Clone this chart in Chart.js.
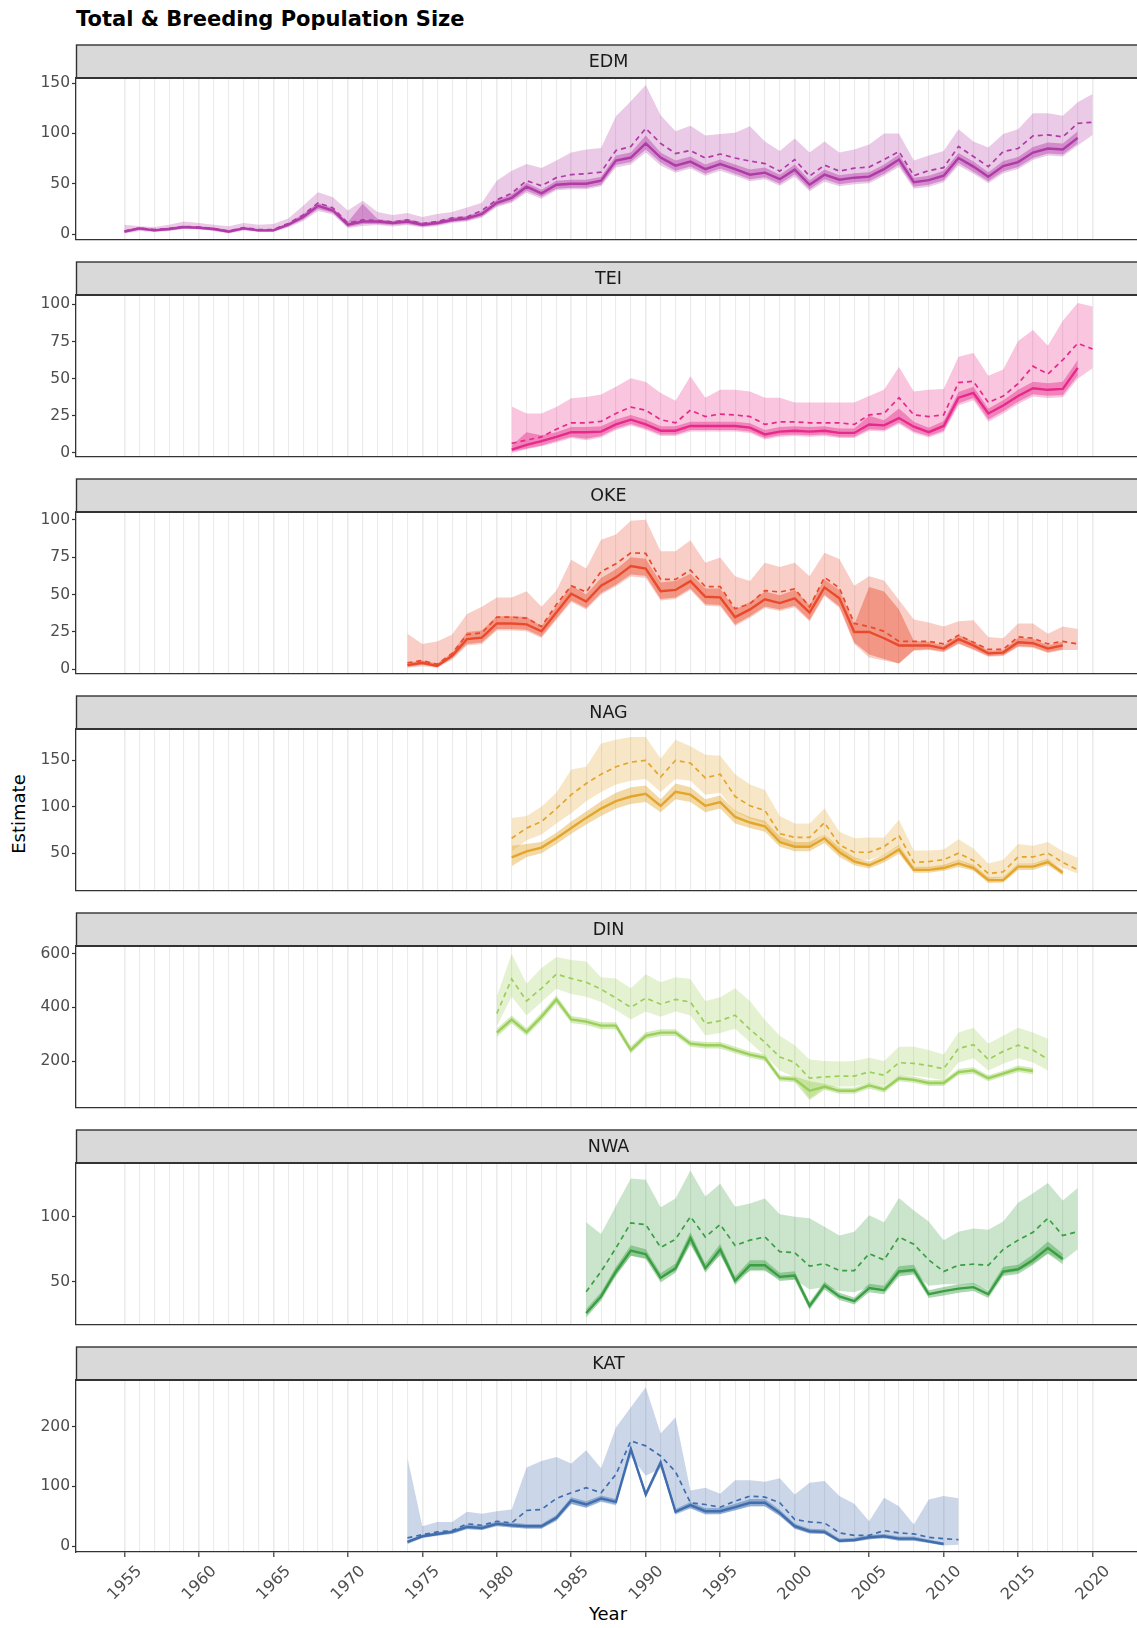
<!DOCTYPE html>
<html>
<head>
<meta charset="utf-8">
<script src="https://cdn.jsdelivr.net/npm/chart.js@4.4.1/dist/chart.umd.min.js"></script>
<style>
  body { margin: 0; background: #fff; overflow: hidden; width: 1137px; height: 1628px; position: relative; font-family: "DejaVu Sans", sans-serif; }
  canvas { position: absolute; left: 0; }
  #title { position: absolute; left: 76px; top: 9px; font-size: 21px; font-weight: bold; line-height: 21px; color: #000; white-space: nowrap; }
  #ylab { position: absolute; left: 19px; top: 814px; font-size: 18px; line-height: 18px; color: #000; white-space: nowrap; transform: translate(-50%, -50%) rotate(-90deg); }
  #xlab { position: absolute; left: 608px; top: 1614px; font-size: 18px; line-height: 18px; color: #000; white-space: nowrap; transform: translate(-50%, -50%); }
</style>
</head>
<body>
<div id="title">Total &amp; Breeding Population Size</div>
<div id="ylab">Estimate</div>
<div id="xlab">Year</div>
<script>
// facets, top to bottom
const panelNames = ['EDM', 'TEI', 'OKE', 'NAG', 'DIN', 'NWA', 'KAT'];
const firstYear = [1955, 1981, 1974, 1981, 1980, 1986, 1974];
const panelColors = ['#B03AA6', '#E7298A', '#EA4A2C', '#E3A52C', '#9ACF5A', '#3A9E42', '#3F6DAE'];
const yTickValues = [[0, 50, 100, 150], [0, 25, 50, 75, 100], [0, 25, 50, 75, 100], [50, 100, 150], [200, 400, 600], [50, 100], [0, 100, 200]];
const yLimits = [[-5.6, 155], [-2.5, 106.3], [-2.9, 105.2], [9.6, 183.7], [26, 629], [17, 141.3], [-10, 278.6]];

// EDM (total 1955-2020, breeding 1955-2019)
const edmTotal = [3, 6, 4.5, 5.5, 7.5, 7, 5.5, 3, 6.5, 4.5, 4.5, 10.5, 19, 31, 26, 11, 14, 13.5, 12, 14, 10.5, 12.5, 16, 17, 23.5, 34, 40.5, 53, 48, 56, 59, 60, 61.5, 83, 87, 105, 90, 80, 83, 75.5, 79.5, 75.5, 72.5, 70, 62.5, 74, 57.5, 68.5, 62.5, 65.5, 66.5, 74, 82, 58, 63, 66, 87, 77, 67, 82, 85, 97.5, 98.5, 96.5, 110, 111];
const edmTotalHi = [9.3, 7.8, 7, 9.3, 12.5, 11, 9.3, 7.8, 11, 9.3, 10, 15.5, 28, 41.5, 36.5, 23.5, 33, 22, 19, 21, 17, 20, 22, 26.5, 31, 53, 63, 69.5, 65.5, 73, 81, 84, 85.5, 117, 132, 148, 118, 102, 107.5, 98, 99.5, 100.5, 107, 92, 82.5, 95, 81, 92, 81, 84, 89, 100, 100, 73, 78, 82.5, 104, 92, 86, 99.5, 104, 120, 120, 117.5, 131, 139];
const edmTotalLo = [0.5, 3, 2, 3, 5, 4.5, 3, 0.5, 3.5, 2, 2, 6.5, 13, 23, 19.5, 6, 8, 9, 7.5, 9, 6.5, 8, 11, 12.5, 16.5, 27, 31, 41, 35, 43.5, 44.5, 44.5, 47.5, 66, 69, 81, 68, 61, 65, 58, 63, 58, 52.5, 54.5, 48, 57, 42.5, 52, 47.5, 49.5, 50.5, 58, 66.5, 45, 47, 51.5, 68, 60, 50.5, 60.5, 64.5, 73.5, 78, 77, 88, 98.5];
const edmBreed = [2.4, 5.6, 3.7, 5, 6.9, 6.2, 5, 2.4, 5.6, 3.7, 3.7, 9.3, 17, 28, 23.4, 9.3, 12.5, 12.5, 11, 12.5, 9.3, 11, 14, 15.6, 20, 31, 36, 47, 40.5, 49, 50, 50, 53, 73, 76, 90, 76, 68, 72, 64.5, 69.5, 64.5, 59, 61, 54.5, 64, 49, 59, 54, 56, 57, 64.5, 74, 51.5, 53.5, 58, 75.5, 67, 57, 67.5, 71.5, 81, 85, 84, 95.5];
const edmBreedHi = [4, 7, 5, 6.5, 8.5, 7.5, 6.5, 4, 7, 5, 5, 11, 20, 31, 26, 12, 30, 15, 13, 15, 11.5, 13, 16.5, 18, 23, 34, 39.5, 51, 44, 53, 54, 54, 57, 78, 81, 98, 81, 73, 77, 69, 74, 69, 64, 66, 59, 69, 53.5, 64, 58.5, 60.5, 61.5, 69, 79, 56, 58, 63, 80.5, 72, 61.5, 72.5, 76.5, 86.5, 91, 90, 102];
const edmBreedLo = [1, 4, 2.5, 3.5, 5.5, 5, 3.5, 1, 4.2, 2.5, 2.5, 7.5, 14.5, 25, 21, 7, 10, 10, 9, 10, 7.5, 9, 12, 13.5, 17.5, 28, 32.5, 43, 37, 45, 46, 46, 49, 68.5, 71.5, 84, 71, 63, 67, 60, 65, 60, 54.5, 56.5, 50, 59.5, 44.5, 54.5, 49.5, 51.5, 52.5, 60, 69, 47, 49, 53.5, 70.5, 62, 52.5, 62.5, 66.5, 75.5, 80, 79, 90];

// TEI (total 1981-2020, breeding 1981-2019)
const teiTotal = [6.5, 8.7, 10.8, 16, 20.3, 20.3, 21.3, 26.6, 30.9, 28.8, 22.4, 20.3, 28.8, 24.5, 26.2, 25.6, 24.5, 19.2, 20.9, 20.9, 20.3, 20.3, 20.3, 19.2, 25.6, 26.6, 37.2, 25.6, 24.5, 25.6, 47.4, 48.2, 34, 38.3, 46.7, 58.4, 53.1, 62.6, 73.8, 70];
const teiTotalHi = [31.3, 26.6, 26.6, 30.9, 36.8, 37.6, 39.3, 44.6, 50.3, 47.8, 40.4, 35.1, 51.6, 37.2, 42.5, 42.5, 41.4, 37.2, 37.2, 34, 34, 34, 34, 34, 38.3, 42.5, 57.9, 41.4, 42.5, 43.1, 64.7, 67.2, 52, 56.2, 75.3, 82.7, 72.1, 89, 101, 98.5];
const teiTotalLo = [0, 2.5, 4.5, 7, 10, 8.5, 10.5, 15.5, 18.5, 15.5, 11.5, 11.5, 14.5, 14.5, 14.5, 14.5, 13.5, 9, 11, 11.5, 11, 11.5, 10, 10, 15, 14.5, 19.5, 13.5, 10.5, 14, 32, 35.5, 21, 26.5, 33, 38, 37, 37.5, 50, 57];
const teiBreed = [2.3, 5.5, 8, 10.8, 14, 14, 14.4, 19.2, 22.4, 19.2, 15, 15, 18.2, 18.2, 18.2, 18.2, 17.1, 12.5, 14.4, 15, 14.4, 15, 13.5, 13.5, 19.2, 18.6, 23.5, 17.7, 14, 18.2, 37.2, 40.4, 26.6, 31.9, 38.3, 43.6, 42.5, 43.1, 57.3];
const teiBreedHi = [5, 14, 12, 14, 17.5, 17.5, 18, 22.5, 25.5, 22.5, 18, 18, 21, 21, 21, 21, 20, 15.5, 17.5, 18, 17.5, 18, 16.5, 16.5, 25, 22, 30, 21, 17, 21.5, 41, 44.5, 30, 35.5, 42.5, 48, 47, 48, 62.5];
const teiBreedLo = [1, 3, 5, 8, 11, 9.5, 11.5, 16.5, 19.5, 16.5, 12.5, 12.5, 15.5, 15.5, 15.5, 15.5, 14.5, 10, 12, 12.5, 12, 12.5, 11, 11, 16, 15.5, 20.5, 14.5, 11.5, 15, 33.5, 37, 22.5, 28, 34.5, 39.5, 38.5, 39, 52];

// OKE (total 1974-2019, breeding 1974-2018)
const okeTotal = [4.4, 5.9, 3.4, 10.7, 23.3, 24.4, 34.9, 34.9, 34.3, 28.6, 43.3, 55.9, 51.7, 65.3, 70.6, 77.9, 77.5, 60.1, 60.1, 66.4, 55.3, 55.3, 40.5, 43.9, 52.7, 51.7, 53.8, 41.8, 61.5, 54.4, 30.7, 28.6, 25.4, 18.7, 18.7, 18.7, 17, 22.9, 18.1, 13.3, 13.3, 21.7, 20.8, 17, 18.7, 17];
const okeTotalHi = [23.8, 17, 18.7, 23.3, 37, 41.8, 48.1, 48.1, 52.3, 41.8, 52.7, 73.3, 67.4, 86.7, 90.1, 99.3, 100, 79, 79, 86.3, 71.2, 74.8, 62.2, 59, 71.2, 68.5, 71.2, 62.2, 77.9, 73.7, 55.9, 62.2, 59.4, 46.4, 33.4, 31.3, 28.6, 32.2, 32.8, 21.7, 20.8, 30.7, 30.7, 23.8, 28.6, 27];
const okeTotalLo = [1, 2, 1, 6.5, 16, 17, 26, 26, 25.5, 21, 33, 45, 40, 50, 55.5, 62, 61, 46, 47, 53, 42.5, 42, 29, 34.5, 41, 39, 41.5, 32, 49, 41, 17, 8, 6, 4, 12.5, 13, 11.5, 17, 13, 8.5, 9, 15, 14.5, 11, 13, 13];
const okeBreed = [2.8, 4.4, 2.3, 9.1, 20.2, 21.2, 30.7, 30.7, 30.1, 25.4, 38, 50.6, 45.4, 55.9, 61.5, 69.1, 67.4, 52.3, 53.1, 59, 48.5, 48.1, 34.9, 40.1, 46.8, 44.3, 47.5, 38, 54.8, 47.5, 25, 25, 20.8, 16, 16, 16, 13.9, 20.2, 16, 10.7, 11.2, 18.1, 17.5, 13.9, 16];
const okeBreedHi = [4.5, 6, 4, 11, 25, 26, 35.5, 35.5, 35, 29, 42, 56, 50, 61, 67, 75, 74, 58, 59, 64, 54, 54, 40, 45, 52, 49.5, 53, 43, 60, 53, 30, 55, 52, 40, 19, 18.5, 16, 23, 18.5, 12.5, 13, 21, 20.5, 16, 18.5];
const okeBreedLo = [1.5, 3, 1.5, 7.5, 17, 18, 27, 27, 26.5, 22, 34, 46, 41, 51, 56.5, 63.5, 62.5, 47, 48, 54, 43.5, 43, 30, 35.5, 42, 40, 42.5, 33, 50, 42, 18, 10, 7, 4, 13, 13.5, 12, 17.5, 13.5, 9, 9.5, 15.5, 15, 11.5, 13.5];

// NAG (total 1981-2019, breeding 1981-2018)
const nagTotal = [66, 77, 84, 98, 113, 125, 135, 143, 148, 150, 132, 150, 147, 131, 135, 111, 101, 96, 71, 67, 67, 83, 59, 51, 51, 57, 69, 40, 41, 43, 50, 42, 28, 30, 46, 46, 50, 40, 32];
const nagTotalHi = [88, 90, 100, 115, 140, 143, 168, 172, 175, 175, 152, 172, 165, 156, 155, 135, 124, 118, 90, 82, 82, 98, 73, 66, 67, 67, 86, 53, 53, 54, 65, 55, 39, 43, 60, 58, 62, 52, 45];
const nagTotalLo = [52, 64, 70, 82, 93, 106, 116, 124, 128, 130, 116, 130, 128, 113, 115, 95, 87, 82, 60, 57, 57, 72, 50, 43, 43, 48, 58, 33, 34, 35, 42, 35, 22, 24, 38, 38, 42, 34, 28];
const nagBreed = [45.6, 52, 56, 66, 77, 88, 98, 106, 111, 114, 101, 116, 113, 101, 105, 89, 83, 79, 62, 57, 57, 66, 51, 41, 37, 44, 54, 32, 32, 34, 39, 34, 21, 21, 35.5, 35.5, 40.5, 29];
const nagBreedHi = [58, 60, 62, 72, 84, 95, 106, 115, 121, 123, 108, 125, 121, 108, 112, 96, 89, 85, 68, 62, 62, 71, 56, 45.5, 41, 48.5, 59, 35.5, 35.5, 37.5, 43, 37.5, 24, 24.5, 39, 39, 44, 32];
const nagBreedLo = [36, 46, 50, 60, 71, 81, 90, 98, 103, 105, 94, 108, 105, 94, 98, 82, 77, 73, 57, 52, 52, 61, 46, 37, 33.5, 40, 49.5, 29, 29, 31, 35, 31, 18, 18.5, 32, 32, 37, 26];

// DIN (total 1980-2017, breeding 1980-2016)
const dinTotal = [377, 506, 424, 471, 524, 508, 494, 468, 435, 400, 435, 412, 430, 420, 340, 350, 371, 318, 270, 215, 195, 136, 141, 144, 144, 159, 147, 194, 191, 183, 171, 247, 261, 206, 236, 259, 241, 206];
const dinTotalHi = [441, 600, 488, 547, 588, 577, 571, 512, 508, 471, 524, 494, 512, 506, 424, 438, 471, 424, 353, 294, 259, 206, 200, 198, 200, 212, 200, 253, 253, 241, 224, 306, 324, 265, 294, 324, 306, 283];
const dinTotalLo = [330, 440, 370, 420, 470, 450, 440, 420, 390, 355, 385, 365, 385, 370, 295, 305, 320, 270, 220, 165, 140, 60, 100, 105, 105, 118, 108, 145, 145, 138, 128, 195, 210, 165, 190, 210, 195, 165];
const dinBreed = [306, 355, 308, 365, 430, 355, 347, 332, 332, 241, 294, 306, 306, 265, 259, 259, 241, 224, 212, 136, 132, 89, 104, 89, 89, 109, 94, 136, 130, 118, 118, 159, 165, 136, 153, 171, 163];
const dinBreedHi = [320, 370, 322, 380, 445, 368, 360, 345, 345, 255, 307, 319, 319, 277, 271, 271, 253, 236, 224, 147, 143, 125, 115, 100, 100, 120, 105, 147, 141, 129, 129, 170, 177, 147, 164, 183, 175];
const dinBreedLo = [290, 340, 294, 350, 415, 342, 334, 319, 319, 228, 281, 293, 293, 253, 247, 247, 229, 212, 200, 125, 121, 55, 93, 78, 78, 98, 83, 125, 119, 107, 107, 148, 153, 125, 142, 159, 151];

// NWA (total 1986-2019, breeding 1986-2018)
const nwaTotal = [42.3, 57.9, 76, 95.2, 94, 76.4, 82.7, 100, 84.4, 94, 77.9, 82, 84.4, 73.1, 72.4, 62, 63.9, 58.6, 58.6, 71.6, 66.8, 84.4, 78.8, 66.8, 57.9, 62.7, 63.5, 62.7, 74.8, 82, 88, 98.8, 85.6, 88.5];
const nwaTotalHi = [95.7, 86.8, 108.4, 129.4, 128.4, 107.2, 114, 135.6, 115.6, 125.3, 107.7, 110.1, 114, 101.9, 100, 98.8, 92.3, 85.6, 88.5, 101.2, 95.7, 114.4, 104.8, 96.4, 82, 88.5, 90.9, 89.9, 96.4, 110.8, 118, 126, 112.5, 122.1];
const nwaTotalLo = [28, 40, 55, 70, 68, 55, 58, 78, 60, 70, 52, 58, 58, 52, 52, 44, 46, 43, 42, 46, 45, 56, 57, 47, 48, 48, 48, 44, 56, 58, 64, 72, 66, 75];
const nwaBreed = [25.9, 38.7, 57.9, 74, 71.2, 53.1, 60.3, 83.7, 60.3, 74.8, 50.7, 62.7, 62.7, 53.8, 54.8, 31.5, 47.1, 38.7, 35.1, 45.2, 43.5, 57.9, 59.1, 40.4, 42.8, 44.7, 45.9, 40.4, 57.9, 59.6, 66.8, 76, 67.5];
const nwaBreedHi = [29, 42, 61.5, 78, 75, 56.5, 64, 88, 64, 79, 54, 66.5, 66.5, 57, 58, 34.5, 50, 41.5, 38, 48.5, 47, 62, 63, 43.5, 46, 48, 49, 43.5, 61.5, 63, 71, 81, 71.5];
const nwaBreedLo = [22.5, 35.5, 54.5, 70, 67.5, 49.5, 57, 79.5, 57, 71, 47.5, 59, 59, 50.5, 51.5, 28.5, 44, 36, 32.5, 42, 40.5, 54, 55.5, 37.5, 39.5, 41.5, 43, 37.5, 54.5, 56, 63, 71.5, 63.5];

// KAT (total 1974-2011, breeding 1974-2010)
const katTotal = [13.6, 19.2, 23.7, 25.9, 37.2, 34.9, 41.6, 38.8, 59.6, 61.3, 79.9, 89.4, 97.8, 89.4, 120.3, 176.5, 168.1, 151.2, 124.8, 72.6, 69.7, 65.2, 75.4, 83.8, 82.1, 72.6, 44.5, 40.5, 38.8, 22, 18, 18, 25.9, 22, 20.3, 14.7, 12.4, 10.7];
const katTotalHi = [148.4, 33.2, 40.5, 40.5, 57.4, 54, 58.5, 61.3, 131.6, 142.8, 149.5, 138.3, 160.8, 130.4, 199, 232.7, 266.4, 188.9, 215.9, 93.3, 97.8, 87.7, 110.2, 110.2, 108, 113.6, 86.6, 106.3, 109.1, 83.8, 70.9, 41.6, 81, 66.9, 36, 78.2, 83.8, 80];
const katTotalLo = [3, 13, 17, 20, 28, 27, 33, 31, 29, 29, 42, 70, 64, 74, 68, 150, 118, 130, 60, 64, 54, 54, 60, 67, 67, 51, 29, 21, 20, 6, 7, 11, 13, 9, 9, 5, 1, 2];
const katBreed = [6.8, 16.4, 20.3, 23.7, 32.1, 30.4, 37.2, 34.9, 33.2, 33.2, 47.3, 76.5, 69.7, 79.9, 74.2, 162.5, 86.6, 140, 57.4, 68.6, 58.5, 58.5, 65.2, 72.6, 72.6, 55.7, 33.2, 24.8, 23.7, 9, 10.2, 14.7, 16.4, 12.4, 12.4, 7.9, 3.4];
const katBreedHi = [9.5, 19, 23, 27, 36, 34, 41, 39, 37, 37, 52, 82, 75, 85, 79, 168, 92, 146, 62, 74, 64, 64, 71, 79, 79, 61, 38, 29, 28, 12.5, 14, 18.5, 20, 16, 16, 11, 6];
const katBreedLo = [4, 14, 17.5, 20.5, 28.5, 27, 33.5, 31, 29.5, 29.5, 43, 71, 64.5, 75, 69.5, 157, 81, 134, 53, 63, 53, 53.5, 60, 66.5, 66.5, 50.5, 29, 21, 20, 6, 7, 11.5, 13, 9, 9, 5, 1];

const panelData = [
    [edmTotal, edmTotalHi, edmTotalLo, edmBreed, edmBreedHi, edmBreedLo],
    [teiTotal, teiTotalHi, teiTotalLo, teiBreed, teiBreedHi, teiBreedLo],
    [okeTotal, okeTotalHi, okeTotalLo, okeBreed, okeBreedHi, okeBreedLo],
    [nagTotal, nagTotalHi, nagTotalLo, nagBreed, nagBreedHi, nagBreedLo],
    [dinTotal, dinTotalHi, dinTotalLo, dinBreed, dinBreedHi, dinBreedLo],
    [nwaTotal, nwaTotalHi, nwaTotalLo, nwaBreed, nwaBreedHi, nwaBreedLo],
    [katTotal, katTotalHi, katTotalLo, katBreed, katBreedHi, katBreedLo]
];

const yearTicks = [];
for (let y = 1955; y <= 2020; y++) yearTicks.push(y);

const STRIP_H = 34;
const PLOT_H = 172;
const AXIS_H = 64;
const FONT = '"DejaVu Sans", sans-serif';

function rgba(hex, a) {
    const n = parseInt(hex.slice(1), 16);
    return 'rgba(' + (n >> 16) + ',' + ((n >> 8) & 255) + ',' + (n & 255) + ',' + a + ')';
}

function toPoints(arr, start) {
    return arr.map(function (v, k) { return { x: start + k, y: v }; });
}

// grey strip with the facet name, and the panel's top border
const stripPlugin = {
    id: 'strip',
    beforeDraw(chart, args, opts) {
        const ctx = chart.ctx;
        const a = chart.chartArea;
        ctx.save();
        ctx.fillStyle = '#d9d9d9';
        ctx.fillRect(a.left, 1, a.right - a.left, a.top - 1);
        ctx.strokeStyle = '#333333';
        ctx.lineWidth = 1.4;
        ctx.strokeRect(a.left + 0.5, 1, a.right - a.left, a.top - 1);
        ctx.fillStyle = '#1a1a1a';
        ctx.font = '17.5px ' + FONT;
        ctx.textAlign = 'center';
        ctx.textBaseline = 'middle';
        ctx.fillText(opts.label, (a.left + a.right) / 2, a.top / 2 + 1);
        ctx.restore();
    },
    afterDraw(chart) {
        const ctx = chart.ctx;
        const a = chart.chartArea;
        ctx.save();
        ctx.strokeStyle = '#333333';
        ctx.lineWidth = 2;
        ctx.beginPath();
        ctx.moveTo(a.left, a.top);
        ctx.lineTo(a.right, a.top);
        ctx.stroke();
        ctx.restore();
    }
};

function makePanel(i) {
    const last = i === panelNames.length - 1;
    const color = panelColors[i];
    const start = firstYear[i];
    const d = panelData[i];

    const canvas = document.createElement('canvas');
    canvas.width = 1145;
    canvas.height = STRIP_H + PLOT_H + (last ? AXIS_H : 1);
    canvas.style.top = Math.round(44 + i * 216.95) + 'px';
    document.body.appendChild(canvas);

    const ribbon = function (arr, fill, bg) {
        return {
            data: toPoints(arr, start),
            fill: fill,
            backgroundColor: bg,
            borderColor: 'rgba(0,0,0,0)',
            borderWidth: 0,
            pointRadius: 0,
            tension: 0
        };
    };

    return new Chart(canvas.getContext('2d'), {
        type: 'line',
        data: {
            datasets: [
                ribbon(d[1], '+1', rgba(color, 0.27)),
                ribbon(d[2], false, 'rgba(0,0,0,0)'),
                ribbon(d[4], '+1', rgba(color, 0.42)),
                ribbon(d[5], false, 'rgba(0,0,0,0)'),
                {
                    data: toPoints(d[0], start),
                    borderColor: color,
                    borderWidth: 1.7,
                    borderDash: [5, 4],
                    fill: false,
                    pointRadius: 0,
                    tension: 0
                },
                {
                    data: toPoints(d[3], start),
                    borderColor: color,
                    borderWidth: 2.4,
                    fill: false,
                    pointRadius: 0,
                    tension: 0
                }
            ]
        },
        options: {
            responsive: false,
            animation: false,
            devicePixelRatio: 1,
            layout: { padding: { top: STRIP_H, right: 4, left: 0, bottom: 0 } },
            scales: {
                x: {
                    type: 'linear',
                    min: 1951.75,
                    max: 2023.25,
                    afterBuildTicks: function (s) { s.ticks = yearTicks.map(function (v) { return { value: v }; }); },
                    afterFit: function (s) { s.height = last ? AXIS_H : 1; },
                    grid: {
                        color: '#ebebeb',
                        lineWidth: function (c) { return c.tick && c.tick.value % 5 === 0 ? 1.6 : 1.1; },
                        drawTicks: last,
                        tickLength: 5,
                        tickWidth: 1.2,
                        tickColor: function (c) { return c.tick && c.tick.value % 5 === 0 ? '#333333' : 'rgba(0,0,0,0)'; }
                    },
                    border: { color: '#333333', width: 1.3 },
                    ticks: {
                        display: last,
                        autoSkip: false,
                        minRotation: 45,
                        maxRotation: 45,
                        labelOffset: 15,
                        padding: 5,
                        color: '#4d4d4d',
                        font: { family: FONT, size: 16 },
                        callback: function (v) { return v % 5 === 0 ? String(v) : ''; }
                    }
                },
                y: {
                    min: yLimits[i][0],
                    max: yLimits[i][1],
                    afterBuildTicks: function (s) { s.ticks = yTickValues[i].map(function (v) { return { value: v }; }); },
                    afterFit: function (s) { s.width = 76; },
                    grid: { drawOnChartArea: false, drawTicks: true, tickLength: 4, tickWidth: 1.2, tickColor: '#333333' },
                    border: { color: '#333333', width: 1.3 },
                    ticks: { padding: 2, color: '#4d4d4d', font: { family: FONT, size: 15.5 } }
                }
            },
            plugins: {
                legend: { display: false },
                tooltip: { enabled: false },
                filler: { propagate: false, drawTime: 'beforeDatasetsDraw' },
                strip: { label: panelNames[i] }
            }
        },
        plugins: [stripPlugin]
    });
}

for (let i = 0; i < panelNames.length; i++) {
    makePanel(i);
}
</script>
</body>
</html>
